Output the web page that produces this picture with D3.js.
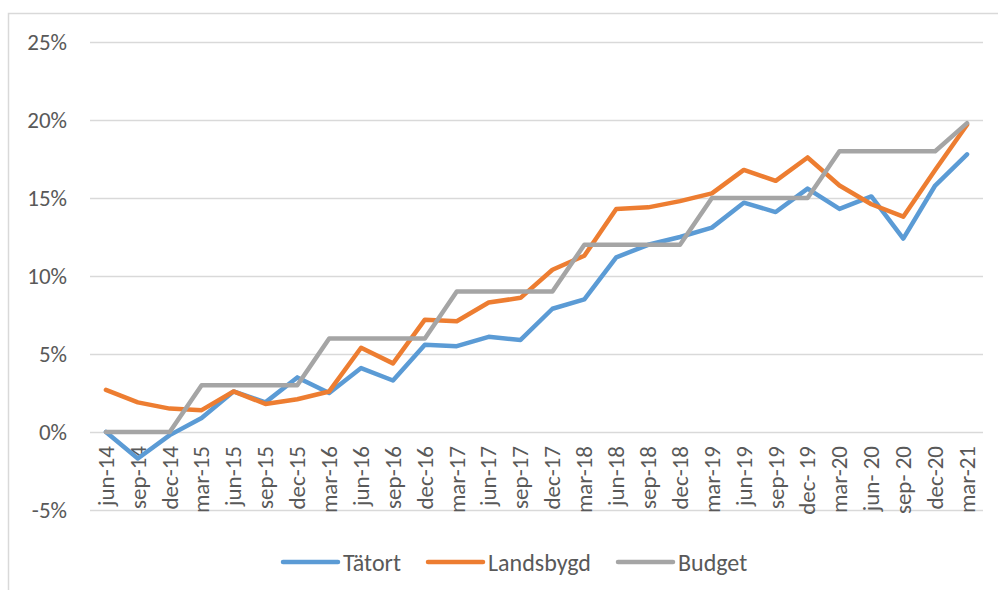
<!DOCTYPE html>
<html>
<head>
<meta charset="utf-8">
<script src="https://cdn.jsdelivr.net/npm/d3@7"></script>
<style>
  body { margin: 0; background: #fff; }
  text { font-family: Carlito, Lato, "Open Sans", sans-serif; fill: #595959; }
</style>
</head>
<body>
<div class="chart-container"></div>
<script>
// Data.
const categories = ['jun-14', 'sep-14', 'dec-14', 'mar-15', 'jun-15', 'sep-15', 'dec-15',
    'mar-16', 'jun-16', 'sep-16', 'dec-16', 'mar-17', 'jun-17', 'sep-17', 'dec-17',
    'mar-18', 'jun-18', 'sep-18', 'dec-18', 'mar-19', 'jun-19', 'sep-19', 'dec- 19',
    'mar-20', 'jun- 20', 'sep- 20', 'dec-20', 'mar-21'];
const tatort = [0, -1.7, -0.2, 0.9, 2.6, 1.9, 3.5, 2.5, 4.1, 3.3, 5.6, 5.5, 6.1, 5.9, 7.9,
    8.5, 11.2, 12.0, 12.5, 13.1, 14.7, 14.1, 15.6, 14.3, 15.1, 12.4, 15.8, 17.8];
const landsbygd = [2.7, 1.9, 1.5, 1.4, 2.6, 1.8, 2.1, 2.6, 5.4, 4.4, 7.2, 7.1, 8.3, 8.6, 10.4,
    11.3, 14.3, 14.4, 14.8, 15.3, 16.8, 16.1, 17.6, 15.8, 14.6, 13.8, 16.8, 19.7];
const budget = [0, 0, 0, 3, 3, 3, 3, 6, 6, 6, 6, 9, 9, 9, 9,
    12, 12, 12, 12, 15, 15, 15, 15, 18, 18, 18, 18, 19.8];
const yTicks = [-5, 0, 5, 10, 15, 20, 25];

const series = [
    {name: 'Tätort', values: tatort, color: '#5b9bd5'},
    {name: 'Landsbygd', values: landsbygd, color: '#ed7d31'},
    {name: 'Budget', values: budget, color: '#a5a5a5'}
];

const width = 998, height = 590;
const plot = {left: 90, right: 983, top: 42, bottom: 510};

const svg = d3.select('.chart-container')
    .append('svg')
    .attr('width', width)
    .attr('height', height);

// Outer frame (top and left edges visible).
svg.append('path')
    .attr('d', `M8.5,${height} V13.5 H${width}`)
    .attr('fill', 'none')
    .attr('stroke', '#d9d9d9')
    .attr('stroke-width', 1.5);

// Scales
const xScale = d3.scaleBand()
    .domain(categories)
    .range([plot.left, plot.right]);
const xc = d => xScale(d) + xScale.bandwidth() / 2;

const yScale = d3.scaleLinear()
    .domain([-5, 25])
    .range([plot.bottom, plot.top]);

// Gridlines + y labels
const axisY = d3.axisLeft(yScale)
    .tickValues(yTicks)
    .tickSize(-(plot.right - plot.left))
    .tickPadding(23)
    .tickFormat(d => d + '%');

const gy = svg.append('g')
    .attr('transform', `translate(${plot.left}, 0)`)
    .call(axisY);
gy.select('.domain').remove();
gy.selectAll('.tick line').attr('stroke', '#d9d9d9').attr('stroke-width', 1.5);
gy.selectAll('.tick text')
    .style('font-size', '23px')
    .attr('dy', '0.34em');

// X labels next to the 0% line
const axisX = d3.axisBottom(xScale).tickSize(0);
const gx = svg.append('g')
    .attr('transform', `translate(0, ${yScale(0)})`)
    .call(axisX);
gx.select('.domain').remove();
gx.selectAll('.tick text')
    .attr('x', -14)
    .attr('y', 0)
    .attr('dy', '0.34em')
    .attr('transform', 'rotate(-90)')
    .style('text-anchor', 'end')
    .style('font-size', '23px');

// Lines
const line = d3.line()
    .x((v, i) => xc(categories[i]))
    .y(v => yScale(v));

svg.append('g')
    .selectAll('path')
    .data(series)
    .enter()
    .append('path')
    .attr('d', s => line(s.values))
    .attr('fill', 'none')
    .attr('stroke', s => s.color)
    .attr('stroke-width', 4.5)
    .attr('stroke-linejoin', 'round')
    .attr('stroke-linecap', 'round');

// Legend
const legendX = [283, 428, 618];
const legend = svg.append('g')
    .selectAll('g')
    .data(series)
    .enter()
    .append('g')
    .attr('transform', (s, i) => `translate(${legendX[i]}, 562)`);

legend.append('line')
    .attr('x1', 0).attr('x2', 55)
    .attr('stroke', s => s.color)
    .attr('stroke-width', 4.5)
    .attr('stroke-linecap', 'round');

legend.append('text')
    .attr('x', 60)
    .attr('dy', '0.36em')
    .style('font-size', '24px')
    .text(s => s.name);
</script>
</body>
</html>
